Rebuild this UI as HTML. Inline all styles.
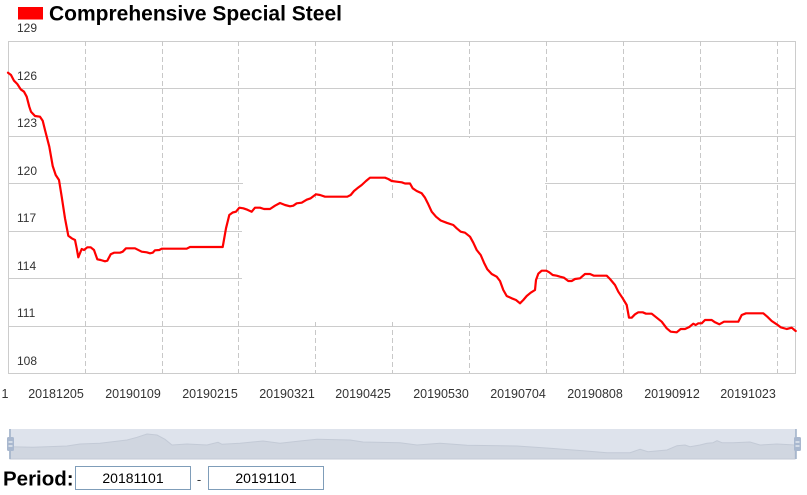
<!DOCTYPE html>
<html><head><meta charset="utf-8"><style>
html,body{margin:0;padding:0;background:#fff;}
svg{display:block;}
text{font-family:"Liberation Sans",Arial,sans-serif;}
</style></head><body>
<svg width="807" height="495" viewBox="0 0 807 495" xmlns="http://www.w3.org/2000/svg">
<rect x="0" y="0" width="807" height="495" fill="#fff"/>
<!-- title -->
<rect x="18" y="7" width="25" height="12.5" fill="#ff0000"/>
<text x="49" y="20.5" font-size="21" font-weight="bold" fill="#000">Comprehensive Special Steel</text>

<!-- horizontal grid -->
<g stroke="#cccccc" stroke-width="1" fill="none" shape-rendering="crispEdges">
<line x1="8" y1="41.5" x2="796" y2="41.5"/>
<line x1="8" y1="88.5" x2="796" y2="88.5"/>
<line x1="8" y1="136.5" x2="796" y2="136.5"/>
<line x1="8" y1="183.5" x2="243" y2="183.5"/>
<line x1="545" y1="183.5" x2="796" y2="183.5"/>
<line x1="8" y1="231.5" x2="242" y2="231.5"/>
<line x1="543" y1="231.5" x2="796" y2="231.5"/>
<line x1="8" y1="278.5" x2="242" y2="278.5"/>
<line x1="537" y1="278.5" x2="796" y2="278.5"/>
<line x1="8" y1="326.5" x2="796" y2="326.5"/>
<line x1="8" y1="373.5" x2="796" y2="373.5"/>
<line x1="8.5" y1="41" x2="8.5" y2="374"/>
<line x1="795.5" y1="41" x2="795.5" y2="374"/>
</g>
<!-- vertical dashed grid -->
<g stroke="#c8c8c8" stroke-width="1" stroke-dasharray="5,3" fill="none" shape-rendering="crispEdges">
<line x1="85.5" y1="41" x2="85.5" y2="373"/>
<line x1="162.5" y1="41" x2="162.5" y2="373"/>
<line x1="238.5" y1="41" x2="238.5" y2="373"/>
<line x1="315.5" y1="41" x2="315.5" y2="200"/>
<line x1="315.5" y1="322" x2="315.5" y2="373"/>
<line x1="392.5" y1="41" x2="392.5" y2="200"/>
<line x1="392.5" y1="322" x2="392.5" y2="373"/>
<line x1="469.5" y1="41" x2="469.5" y2="138"/>
<line x1="469.5" y1="323" x2="469.5" y2="373"/>
<line x1="546.5" y1="41" x2="546.5" y2="373"/>
<line x1="623.5" y1="41" x2="623.5" y2="373"/>
<line x1="700.5" y1="41" x2="700.5" y2="373"/>
<line x1="777.5" y1="41" x2="777.5" y2="373"/>
</g>

<!-- y labels -->
<g font-size="12" fill="#333">
<text x="17" y="32">129</text>
<text x="17" y="80">126</text>
<text x="17" y="127">123</text>
<text x="17" y="175">120</text>
<text x="17" y="222">117</text>
<text x="17" y="270">114</text>
<text x="17" y="317">111</text>
<text x="17" y="365">108</text>
</g>
<!-- x labels -->
<g font-size="12.5" fill="#333" text-anchor="middle">
<text x="5" y="398">1</text>
<text x="56" y="398">20181205</text>
<text x="133" y="398">20190109</text>
<text x="210" y="398">20190215</text>
<text x="287" y="398">20190321</text>
<text x="363" y="398">20190425</text>
<text x="441" y="398">20190530</text>
<text x="518" y="398">20190704</text>
<text x="595" y="398">20190808</text>
<text x="672" y="398">20190912</text>
<text x="748" y="398">20191023</text>
</g>

<!-- series -->
<polyline fill="none" stroke="#ff0000" stroke-width="2.2" stroke-linejoin="round" stroke-linecap="round" points="8,72.7 11,75 14,80.7 17.3,84 20.7,89.3 24,91.7 26.7,96.7 29.3,106.7 31,111.7 35,116 40,116.7 42.7,120.7 45,130 49.3,146.7 52.7,166 55.7,175 59,180 61.7,196.7 65,218.3 68.3,235.7 71.7,238.3 75,240 76.7,248.3 78.3,257.3 81.7,249 84,250 87.3,247.3 90.7,247.3 94,250 97.3,259.3 100.7,260 105,261.3 107.3,260.7 110.7,254.3 114,252.7 120,252.7 122.7,251.7 126,248.3 135,248.3 141.7,251.7 146.7,252.3 150,253.3 152.7,252.7 155,250.3 159.3,250 161.7,248.7 186.7,248.7 190,247 222.7,247 226,228.3 229.3,215 232.7,212.5 236,211.7 239.3,207.7 243.3,208.3 247.3,209.7 251.7,211.7 255,207.7 260,207.7 264,209 270,209 275,205.7 280,203 285,205 290,206.3 293.3,205.7 296.7,203.3 301.7,202.7 306.7,199.7 310.7,198.3 316,194.3 320,195 325,196.7 347.3,196.7 350.7,195 354,191 357.3,188.3 361.7,185 366,181 370,177.7 385,177.7 388.3,179 391.7,181 396.7,181.7 401.7,182.3 405,183.5 410,183.5 412.7,188.3 416.7,191 421.7,193.3 425,197.7 428.3,204.3 431.7,211.7 436,216.7 440.7,220.5 446.7,222.8 453.3,225 456.7,228.3 460.7,231.7 465,232.7 470,236.7 473.3,242.7 476.7,250 480.7,255 484,262.7 487.3,269.3 491.7,274 496.7,276.7 500,281 503.3,290 506.7,296 511.7,298.3 516,300 520,303.3 523.3,300 526.7,296 530.7,292.7 535,290 536,280 538.3,273.7 541.7,270.7 546.3,270.7 549.3,272.3 552.7,275 556.7,275.7 560,276.7 564,277.7 568.3,281 571.7,281 575,279 580,278.3 585,274 590,274 594,275.7 606.7,275.7 610,279 615,285 618.3,291.7 622.7,298.3 626.7,305 629,317.7 631.7,317.7 635,314.3 638.3,312.3 642.7,312.3 646,313.7 651.7,313.7 656.7,317.7 661.7,321.7 666.7,328.3 670.7,331.7 676.7,332.3 680.7,329 685,329 689.3,327 693.3,323.7 695.7,325 698.3,323.3 701.7,323.3 705,320 711.7,320 715,322.3 719.3,324.3 724,321.7 738.3,321.7 741.7,315 746,313.3 763.3,313.3 767.3,316.7 771.7,321 776.7,324.3 780.7,327.3 786.7,329 791.7,327.7 795.7,331"/>

<!-- data zoom slider -->
<rect x="9" y="429" width="787" height="30" fill="#dee3ec"/>
<path fill="#d0d6e0" stroke="#c3cad6" stroke-width="1" d="M10,446.7 L33,447.3 L67,446 L80,444 L100,443.3 L127,440 L137,437.3 L147,434 L157,435 L165,439.3 L172,445 L187,444 L207,445 L218,442.3 L222,444.3 L240,443.3 L263,441 L280,443.3 L300,441 L317,439.3 L350,440 L363,442 L400,442.7 L417,445 L440,443.3 L467,445.3 L517,446 L550,448.3 L583,450.7 L607,452.7 L630,452.7 L640,449.3 L648,451.7 L667,450 L677,445.7 L685,445 L690,446.7 L700,445 L707,443.3 L713,442.7 L717,440.7 L722,442.7 L733,442.7 L750,442 L760,445 L777,444 L795,445 L795,459 L10,459 Z"/>
<line x1="10" y1="429" x2="10" y2="459" stroke="#9fb0c8" stroke-width="1.5"/>
<line x1="796" y1="429" x2="796" y2="459" stroke="#9fb0c8" stroke-width="1.5"/>
<rect x="7" y="437" width="7" height="14" rx="1.5" fill="#a9b8cf"/>
<line x1="8.5" y1="442" x2="12.5" y2="442" stroke="#fff" stroke-width="1"/>
<line x1="8.5" y1="446" x2="12.5" y2="446" stroke="#fff" stroke-width="1"/>
<rect x="794" y="437" width="7" height="14" rx="1.5" fill="#a9b8cf"/>
<line x1="795.5" y1="442" x2="799.5" y2="442" stroke="#fff" stroke-width="1"/>
<line x1="795.5" y1="446" x2="799.5" y2="446" stroke="#fff" stroke-width="1"/>

<!-- period -->
<text x="3" y="485.3" font-size="20.5" font-weight="bold" fill="#000">Period:</text>
<rect x="75.5" y="466.5" width="115" height="23" fill="#fff" stroke="#7f9db9" stroke-width="1"/>
<text x="133" y="483" font-size="14" fill="#000" text-anchor="middle">20181101</text>
<text x="199" y="484" font-size="13" fill="#333" text-anchor="middle">-</text>
<rect x="208.5" y="466.5" width="115" height="23" fill="#fff" stroke="#7f9db9" stroke-width="1"/>
<text x="266" y="483" font-size="14" fill="#000" text-anchor="middle">20191101</text>
</svg>
</body></html>
